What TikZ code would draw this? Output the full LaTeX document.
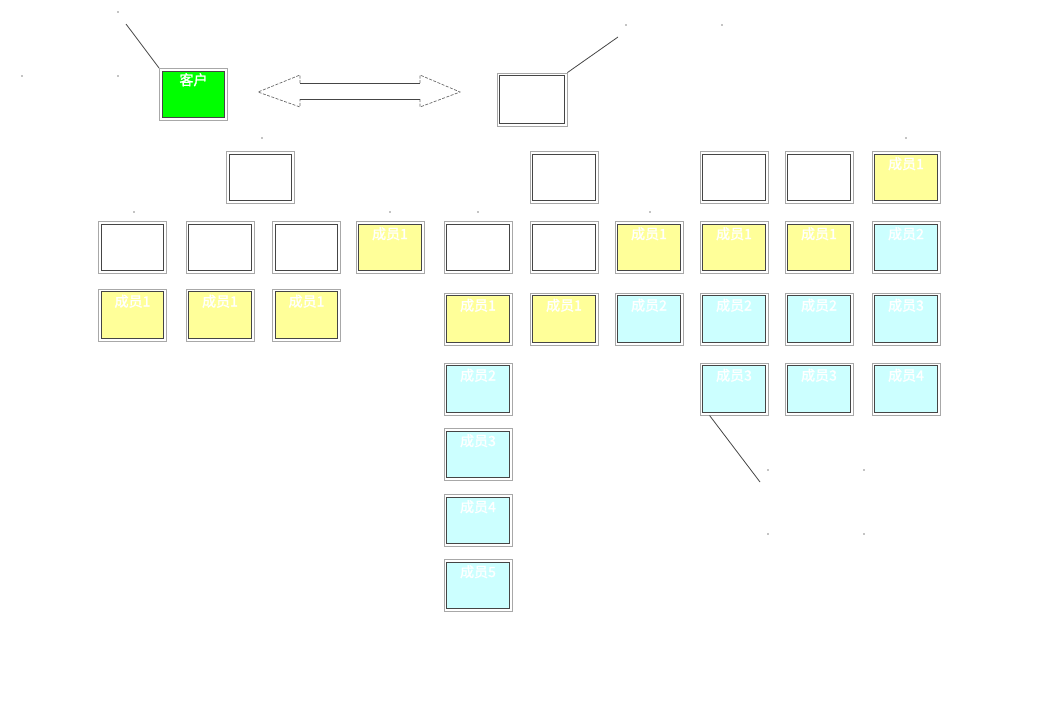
\documentclass[tikz,border=0pt]{standalone}
\usepackage{fontspec}
\newfontfamily\cjk[FakeBold=1.5]{Noto Sans CJK SC}
\definecolor{yel}{HTML}{FFFF99}
\definecolor{cya}{HTML}{CCFFFF}
\definecolor{grn}{HTML}{00FF00}
\definecolor{lgray}{HTML}{A8A8A8}
\definecolor{dgray}{HTML}{454545}
\tikzset{
  mbox/.style={draw=lgray, line width=0.9pt, minimum width=68pt, minimum height=52pt, inner sep=0pt,
    path picture={
      \fill[#1] ([shift={(2.8pt,-2.8pt)}]path picture bounding box.north west) rectangle ([shift={(-2.8pt,2.8pt)}]path picture bounding box.south east);
      \draw[dgray, line width=0.7pt] ([shift={(2.8pt,-2.8pt)}]path picture bounding box.north west) rectangle ([shift={(-2.8pt,2.8pt)}]path picture bounding box.south east);
    }},
  mbox/.default=white,
  lbl/.style={text=white, font=\cjk\fontsize{14}{14}\selectfont, inner sep=0pt, anchor=north},
  ln/.style={draw=dgray, line width=0.8pt},
  dotm/.style={fill=black, circle, inner sep=0pt, minimum size=1.2pt}
}
\begin{document}
\begin{tikzpicture}[x=1pt,y=-1pt]
\useasboundingbox (0,0) rectangle (1041,705);
% customer and partner
\node[mbox=grn] (kh) at (193.5,94.5) {};
\node[lbl] (khl) at ([yshift=-5pt]kh.north) {客户};
\node[mbox, minimum width=70pt, minimum height=53pt] (tr) at (532,99.5) {};
% double arrow
\draw[dgray!80, dashed, dash pattern=on 3pt off 1.5pt, line width=0.7pt] (300,83) -- (300,75) -- (258,92) -- (300,107) -- (300,99);
\draw[dgray!80, dashed, dash pattern=on 3pt off 1.5pt, line width=0.7pt] (420,83) -- (420,75) -- (460,92) -- (420,107) -- (420,99);
\draw[dgray, line width=0.9pt] (300,83) -- (420,83) (300,99) -- (420,99);
% leader lines
\coordinate (c1) at (126,24);
\coordinate (c2) at (618,37);
\coordinate (c3) at (760,482);
% columns
\def\cA{132.5}\def\cB{220}\def\cC{306.5}\def\cD{390}\def\cE{478}
\def\cF{564}\def\cG{649}\def\cH{734}\def\cI{819}\def\cJ{906}
% row 1
\node[mbox] (a1) at (260.5,177.5) {};
\node[mbox] (f1) at (\cF,177.5) {};
\node[mbox] (h1) at (\cH,177.5) {};
\node[mbox] (i1) at (\cI,177.5) {};
\node[mbox=yel] (j1) at (\cJ,177.5) {};
% row 2
\node[mbox] (a2) at (\cA,247.5) {};
\node[mbox] (b2) at (\cB,247.5) {};
\node[mbox] (c2b) at (\cC,247.5) {};
\node[mbox=yel] (d2) at (\cD,247.5) {};
\node[mbox] (e2) at (\cE,247.5) {};
\node[mbox] (f2) at (\cF,247.5) {};
\node[mbox=yel] (g2) at (\cG,247.5) {};
\node[mbox=yel] (h2) at (\cH,247.5) {};
\node[mbox=yel] (i2) at (\cI,247.5) {};
\node[mbox=cya] (j2) at (\cJ,247.5) {};
% row 3
\node[mbox=yel] (a3) at (\cA,315) {};
\node[mbox=yel] (b3) at (\cB,315) {};
\node[mbox=yel] (c3b) at (\cC,315) {};
\node[mbox=yel] (e3) at (\cE,319) {};
\node[mbox=yel] (f3) at (\cF,319) {};
\node[mbox=cya] (g3) at (\cG,319) {};
\node[mbox=cya] (h3) at (\cH,319) {};
\node[mbox=cya] (i3) at (\cI,319) {};
\node[mbox=cya] (j3) at (\cJ,319) {};
% row 4
\node[mbox=cya] (e4) at (\cE,389) {};
\node[mbox=cya] (h4) at (\cH,389) {};
\node[mbox=cya] (i4) at (\cI,389) {};
\node[mbox=cya] (j4) at (\cJ,389) {};
% column E lower
\node[mbox=cya] (e5) at (\cE,454.5) {};
\node[mbox=cya] (e6) at (\cE,520.5) {};
\node[mbox=cya] (e7) at (\cE,585.5) {};
% labels
\foreach \n/\t in {j1/成员1, d2/成员1, g2/成员1, h2/成员1, i2/成员1, j2/成员2,
  a3/成员1, b3/成员1, c3b/成员1, e3/成员1, f3/成员1, g3/成员2, h3/成员2, i3/成员2, j3/成员3,
  e4/成员2, h4/成员3, i4/成员3, j4/成员4, e5/成员3, e6/成员4, e7/成员5}
  \node[lbl] (l\n) at ([yshift=-6pt]\n.north) {\t};
% lines
\draw[ln] (c1) -- (kh.north west);
\draw[ln] (tr.north east) -- (c2);
\draw[ln] ([xshift=10pt]h4.south west) -- (c3);
% stray dots
\foreach \x/\y [count=\i] in {118/12, 118/76, 22/76, 262/138, 134/212, 390/212, 478/212, 650/212, 906/138, 626/25, 722/25, 768/470, 864/470, 768/534, 864/534}
  \node[dotm] (d\i) at (\x,\y) {};
\end{tikzpicture}
\end{document}
